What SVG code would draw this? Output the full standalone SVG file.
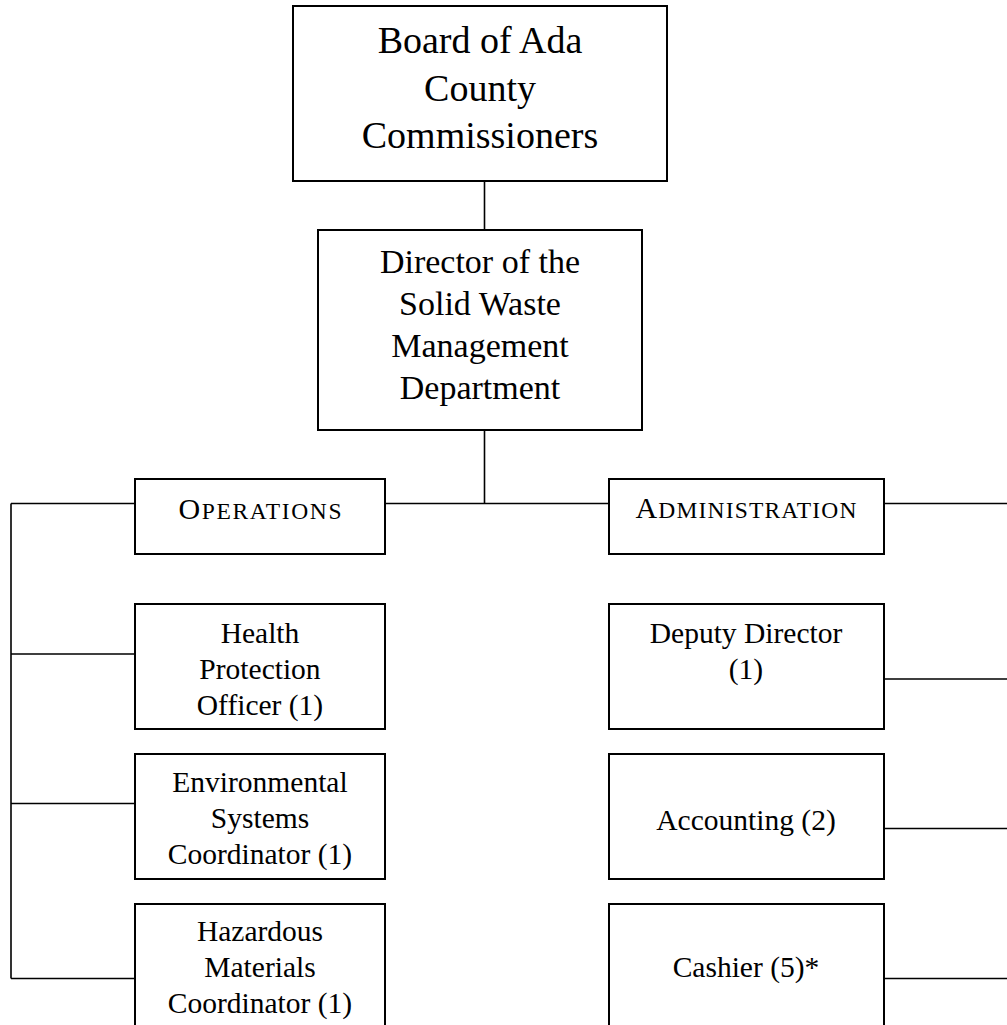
<svg xmlns="http://www.w3.org/2000/svg" width="1007" height="1025" viewBox="0 0 1007 1025">
<style>
.box{fill:#fff;stroke:#000;stroke-width:2}
.ln{fill:none;stroke:#000;stroke-width:1.6}
text{font-family:"Liberation Serif","Times New Roman",serif;fill:#000;text-anchor:middle}
.t1{font-size:38px}
.t2{font-size:34px}
.t3{font-size:29.5px}
.sc1{font-size:30px}
.sc2{font-size:23.5px}
</style>
<rect width="1007" height="1025" fill="#fff"/>
<g id="connectors">
<path class="ln" d="M484.5 181V230M484.5 430V503.5M11 503.5H135M385 503.5H609M884 503.5H1007M11 503.5V978.5M11 654H135M11 803.5H135M11 978.5H135M884 679H1007M884 828.5H1007M884 978.5H1007"/>
</g>
<g id="board">
<rect class="box" x="293" y="6" width="374" height="175"/>
<text class="t1" x="480" y="53">Board of Ada</text>
<text class="t1" x="480" y="100.5">County</text>
<text class="t1" x="480" y="148">Commissioners</text>
</g>
<g id="director">
<rect class="box" x="318" y="230" width="324" height="200"/>
<text class="t2" x="480" y="273">Director of the</text>
<text class="t2" x="480" y="314.5">Solid Waste</text>
<text class="t2" x="480" y="356.5">Management</text>
<text class="t2" x="480" y="399">Department</text>
</g>
<g id="operations">
<rect class="box" x="135" y="479" width="250" height="75"/>
<text x="260" y="518.5" textLength="163" lengthAdjust="spacing"><tspan class="sc1">O</tspan><tspan class="sc2">PERATIONS</tspan></text>
</g>
<g id="administration">
<rect class="box" x="609" y="479" width="275" height="75"/>
<text x="746" y="518" textLength="221" lengthAdjust="spacing"><tspan class="sc1">A</tspan><tspan class="sc2">DMINISTRATION</tspan></text>
</g>
<g id="health">
<rect class="box" x="135" y="604" width="250" height="125"/>
<text class="t3" x="260" y="643">Health</text>
<text class="t3" x="260" y="679">Protection</text>
<text class="t3" x="260" y="715">Officer (1)</text>
</g>
<g id="environmental">
<rect class="box" x="135" y="754" width="250" height="125"/>
<text class="t3" x="260" y="792">Environmental</text>
<text class="t3" x="260" y="828">Systems</text>
<text class="t3" x="260" y="864">Coordinator (1)</text>
</g>
<g id="hazardous">
<rect class="box" x="135" y="904" width="250" height="135"/>
<text class="t3" x="260" y="940.5">Hazardous</text>
<text class="t3" x="260" y="976.5">Materials</text>
<text class="t3" x="260" y="1013">Coordinator (1)</text>
</g>
<g id="deputy">
<rect class="box" x="609" y="604" width="275" height="125"/>
<text class="t3" x="746" y="643">Deputy Director</text>
<text class="t3" x="746" y="679">(1)</text>
</g>
<g id="accounting">
<rect class="box" x="609" y="754" width="275" height="125"/>
<text class="t3" x="746" y="830">Accounting (2)</text>
</g>
<g id="cashier">
<rect class="box" x="609" y="904" width="275" height="135"/>
<text class="t3" x="746" y="977">Cashier (5)*</text>
</g>
</svg>
